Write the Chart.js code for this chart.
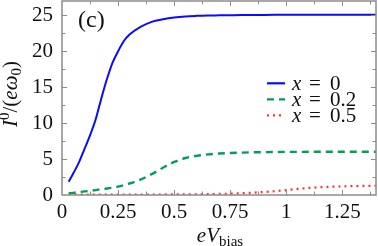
<!DOCTYPE html>
<html>
<head>
<meta charset="utf-8">
<script src="https://cdn.jsdelivr.net/npm/chart.js@4"></script>
<style>
  body { margin: 0; background: #fff; }
  #wrap { width: 378px; height: 246px; }
</style>
</head>
<body>
<div id="wrap"><canvas id="myChart"></canvas></div>
<script>
// eV_bias values shared by all three curves
const bias = [0.03, 0.05, 0.075, 0.1, 0.125, 0.15, 0.175, 0.2, 0.225, 0.25, 0.275, 0.3,
  0.35, 0.4, 0.45, 0.5, 0.55, 0.6, 0.65, 0.7, 0.75, 0.8, 0.85, 0.9, 0.95, 1.0,
  1.05, 1.1, 1.15, 1.2, 1.25, 1.3, 1.35, 1.4];

const curX0 = [1.85, 3.0, 4.5, 6.4, 8.3, 10.5, 13.4, 16.1, 18.4, 20.0, 21.4, 22.3,
  23.4, 24.1, 24.45, 24.7, 24.85, 24.93, 24.98, 25.0, 25.02, 25.04, 25.05, 25.06, 25.07, 25.08,
  25.08, 25.09, 25.09, 25.1, 25.1, 25.1, 25.1, 25.1];

const curX02 = [0.25, 0.3, 0.4, 0.5, 0.58, 0.68, 0.8, 0.9, 1.02, 1.17, 1.37, 1.6,
  2.15, 2.9, 3.8, 4.6, 5.15, 5.45, 5.65, 5.77, 5.85, 5.9, 5.94, 5.96, 5.98, 6.0,
  6.0, 6.01, 6.01, 6.02, 6.02, 6.02, 6.02, 6.02];

const curX05 = [0.05, 0.05, 0.05, 0.05, 0.05, 0.05, 0.05, 0.05, 0.05, 0.05, 0.05, 0.05,
  0.06, 0.06, 0.07, 0.08, 0.09, 0.1, 0.12, 0.15, 0.19, 0.24, 0.32, 0.42, 0.53, 0.68,
  0.84, 0.98, 1.08, 1.15, 1.2, 1.24, 1.27, 1.29];

// labelled ticks, plus the minor tick marks between them
const xTickVals = [0, 0.25, 0.5, 0.75, 1, 1.25];
const xTicks = ["0", "0.25", "0.5", "0.75", "1", "1.25"];
const xMinor = [0.125, 0.375, 0.625, 0.875, 1.125, 1.375];
const yTickVals = [0, 5, 10, 15, 20, 25];
const yTicks = ["0", "5", "10", "15", "20", "25"];
const yMinor = [2.5, 7.5, 12.5, 17.5, 22.5];
const legendLabels = ["0", "0.2", "0.5"];

const colors = ["#0a0aff", "#009f55", "#ff3030"];
const dashes = [[], [7, 5], [2, 4]];

const SERIF = "'Liberation Serif', 'DejaVu Serif', serif";

function pts(ys) {
  return bias.map((b, i) => ({ x: b, y: ys[i] }));
}

// draws a row of text parts [text, font, dy] centred on x
function drawRich(c, parts, x, y) {
  let w = 0;
  parts.forEach((p) => { c.font = p[1]; w += c.measureText(p[0]).width; });
  let cx = x - w / 2;
  parts.forEach((p) => {
    c.font = p[1];
    c.fillText(p[0], cx, y + (p[2] || 0));
    cx += c.measureText(p[0]).width;
  });
}

const framePlugin = {
  id: "frame",
  afterDatasetsDraw(chart) {
    const c = chart.ctx;
    const a = chart.chartArea;
    const sx = chart.scales.x;
    const sy = chart.scales.y;
    c.save();
    c.strokeStyle = "#8c8c8c";
    c.lineWidth = 1.5;
    c.strokeRect(a.left, a.top, a.right - a.left, a.bottom - a.top);

    // inward ticks, all four sides
    c.lineWidth = 1;
    c.beginPath();
    const xt = (v, len) => {
      const px = Math.round(sx.getPixelForValue(v)) + 0.5;
      c.moveTo(px, a.bottom); c.lineTo(px, a.bottom - len);
      c.moveTo(px, a.top); c.lineTo(px, a.top + len);
    };
    const yt = (v, len) => {
      const py = Math.round(sy.getPixelForValue(v)) + 0.5;
      c.moveTo(a.left, py); c.lineTo(a.left + len, py);
      c.moveTo(a.right, py); c.lineTo(a.right - len, py);
    };
    xTickVals.slice(1).forEach((v) => xt(v, 5));
    xMinor.forEach((v) => xt(v, 3.5));
    yTickVals.slice(1).forEach((v) => yt(v, 5));
    yMinor.forEach((v) => yt(v, 3.5));
    c.stroke();

    c.fillStyle = "#111";
    c.textBaseline = "alphabetic";

    // panel tag
    c.font = "24px " + SERIF;
    c.fillText("(c)", 78, 27);

    // x axis title
    const mid = (a.left + a.right) / 2;
    drawRich(c, [["eV", "italic 21px " + SERIF], ["bias", "15px " + SERIF, 4]], mid + 1, 242);

    // y axis title
    c.save();
    c.translate(17, 94);
    c.rotate(-Math.PI / 2);
    drawRich(c, [
      ["I", "italic 21px " + SERIF],
      ["0", "15px " + SERIF, -8],
      ["/(", "21px " + SERIF],
      ["eω", "italic 21px " + SERIF],
      ["0", "15px " + SERIF, 4],
      [")", "21px " + SERIF],
    ], 0, 0);
    c.restore();

    // legend
    legendLabels.forEach((lab, i) => {
      const yc = 83.3 + i * 16;
      c.strokeStyle = colors[i];
      c.lineWidth = 2.2;
      c.setLineDash(dashes[i]);
      c.beginPath();
      c.moveTo(267, yc); c.lineTo(285, yc);
      c.stroke();
      c.setLineDash([]);
      c.fillStyle = "#111";
      c.font = "italic 21px " + SERIF;
      c.fillText("x", 292, yc + 7);
      c.font = "21px " + SERIF;
      c.fillText("=", 309, yc + 7);
      c.fillText(lab, 330, yc + 7);
    });
    c.restore();
  },
};

const ctx = document.getElementById("myChart");

new Chart(ctx, {
  type: "line",
  data: {
    datasets: [
      { label: "x = " + legendLabels[0], data: pts(curX0), borderColor: colors[0], borderWidth: 2, borderDash: dashes[0] },
      { label: "x = " + legendLabels[1], data: pts(curX02), borderColor: colors[1], borderWidth: 2.4, borderDash: dashes[1] },
      { label: "x = " + legendLabels[2], data: pts(curX05), borderColor: colors[2], borderWidth: 2.2, borderDash: dashes[2] },
    ],
  },
  options: {
    responsive: true,
    maintainAspectRatio: false,
    animation: false,
    layout: { padding: { top: 1, right: 2, left: 0, bottom: 0 } },
    elements: {
      point: { radius: 0 },
      line: { cubicInterpolationMode: "monotone", fill: false },
    },
    plugins: { legend: { display: false }, tooltip: { enabled: false } },
    scales: {
      x: {
        type: "linear",
        min: 0,
        max: 1.4,
        bounds: "data",
        grid: { display: false, drawTicks: false },
        border: { display: false },
        afterFit: (s) => { s.height = 51; s.paddingLeft = 0; s.paddingRight = 0; },
        afterBuildTicks: (s) => { s.ticks = xTickVals.map((v) => ({ value: v })); },
        ticks: {
          autoSkip: false,
          maxRotation: 0,
          padding: 5,
          color: "#111",
          font: { family: SERIF, size: 21 },
          callback: (v, i) => xTicks[i],
        },
      },
      y: {
        min: 0,
        max: 27,
        bounds: "data",
        grid: { display: false, drawTicks: false },
        border: { display: false },
        afterFit: (s) => { s.width = 62; s.paddingTop = 0; s.paddingBottom = 0; },
        afterBuildTicks: (s) => { s.ticks = yTickVals.map((v) => ({ value: v })); },
        ticks: {
          autoSkip: false,
          padding: 9,
          color: "#111",
          font: { family: SERIF, size: 21 },
          callback: (v, i) => yTicks[i],
        },
      },
    },
  },
  plugins: [framePlugin],
});
</script>
</body>
</html>
